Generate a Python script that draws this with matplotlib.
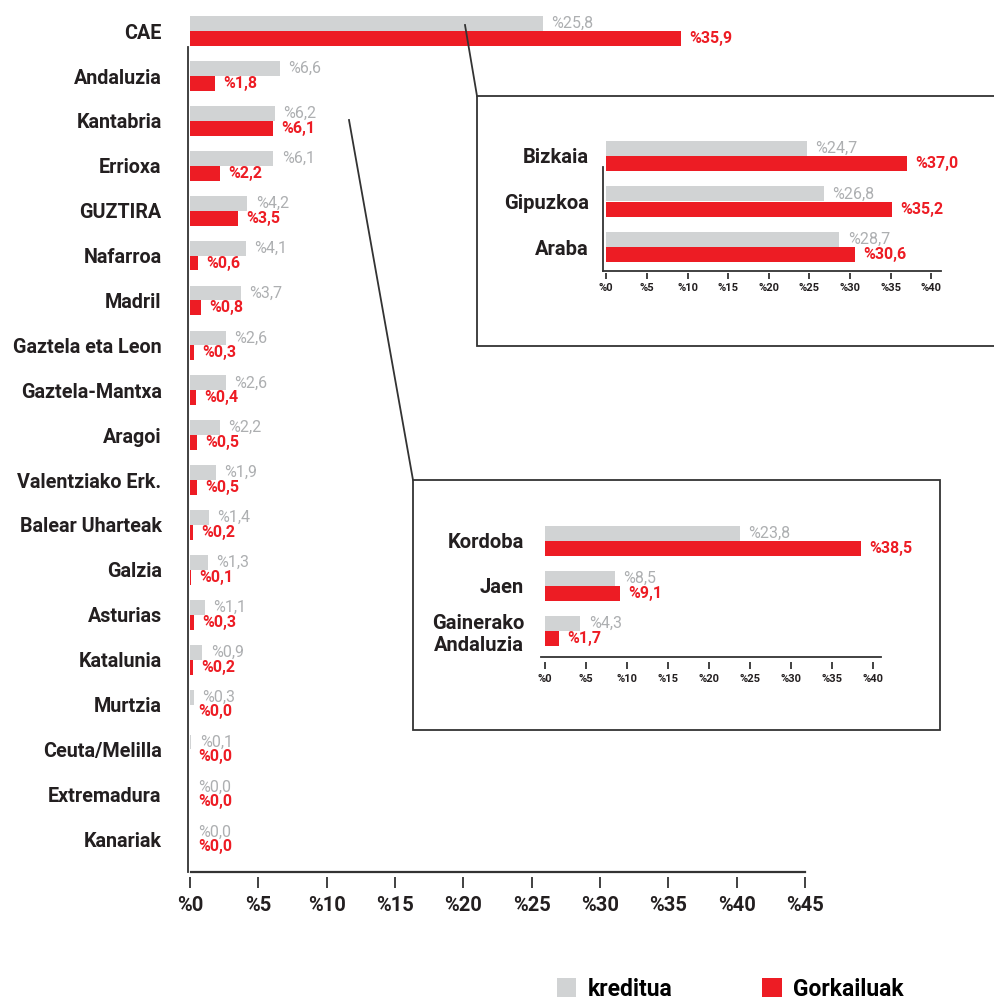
import matplotlib.pyplot as plt
from matplotlib.patches import Rectangle, Patch
from matplotlib.lines import Line2D

plt.rcParams['font.family'] = ['Roboto', 'DejaVu Sans']

# main chart data
regions = ['CAE', 'Andaluzia', 'Kantabria', 'Errioxa', 'GUZTIRA', 'Nafarroa', 'Madril',
           'Gaztela eta Leon', 'Gaztela-Mantxa', 'Aragoi', 'Valentziako Erk.',
           'Balear Uharteak', 'Galzia', 'Asturias', 'Katalunia', 'Murtzia',
           'Ceuta/Melilla', 'Extremadura', 'Kanariak']
kreditua = [25.8, 6.6, 6.2, 6.1, 4.2, 4.1, 3.7, 2.6, 2.6, 2.2, 1.9, 1.4, 1.3, 1.1, 0.9,
            0.3, 0.1, 0.0, 0.0]
gorkailuak = [35.9, 1.8, 6.1, 2.2, 3.5, 0.6, 0.8, 0.3, 0.4, 0.5, 0.5, 0.2, 0.1, 0.3, 0.2,
              0.0, 0.0, 0.0, 0.0]

# CAE breakdown
cae_areas = ['Bizkaia', 'Gipuzkoa', 'Araba']
cae_kreditua = [24.7, 26.8, 28.7]
cae_gorkailuak = [37.0, 35.2, 30.6]

# Andaluzia breakdown
and_areas = ['Kordoba', 'Jaen', 'Gainerako\nAndaluzia']
and_kreditua = [23.8, 8.5, 4.3]
and_gorkailuak = [38.5, 9.1, 1.7]

main_ticks = list(range(0, 50, 5))
inset_ticks = list(range(0, 45, 5))

GREY = '#d1d3d4'
GREY_TXT = '#adafb1'
RED = '#ed1c24'
DARK = '#231f20'
LINE = '#333333'

W, H = 994, 1001


def rect(l, t, r, b):
    """pixel box -> figure fraction [left, bottom, width, height]"""
    return [l / W, 1 - b / H, (r - l) / W, (b - t) / H]


def fig_pt(x, y):
    return x / W, 1 - y / H


def pct(v):
    return '%' + f'{v:.1f}'.replace('.', ',')


def draw_pairs(ax, labels, kred, gork, val_fs, cat_fs, cat_pad):
    pos = list(range(len(labels)))
    h = 0.33
    ax.barh([p - h / 2 for p in pos], kred, height=h, color=GREY, zorder=2)
    ax.barh([p + h / 2 for p in pos], gork, height=h, color=RED, zorder=2)
    for p, k, g in zip(pos, kred, gork):
        ax.annotate(pct(k), (k, p - h / 2), xytext=(6, 0), textcoords='offset points',
                    va='center', ha='left', fontsize=val_fs, color=GREY_TXT)
        ax.annotate(pct(g), (g, p + h / 2), xytext=(6, 0), textcoords='offset points',
                    va='center', ha='left', fontsize=val_fs, color=RED, fontweight='bold')
    ax.set_yticks(pos)
    ax.set_yticklabels(labels, fontsize=cat_fs, fontweight='bold', color=DARK)
    ax.tick_params(axis='y', length=0, pad=cat_pad)
    for s in ['top', 'right', 'bottom']:
        ax.spines[s].set_visible(False)
    ax.set_facecolor('none')


fig = plt.figure(figsize=(W / 100, H / 100), dpi=100)

# ---- main chart
ax = fig.add_axes(rect(188, 10, 805, 877), zorder=0)
draw_pairs(ax, regions, kreditua, gorkailuak, 11.5, 14.2, 19)
ax.set_xlim(-0.15, 45)
ax.set_ylim(18.84, -0.47)
ax.set_xticks(main_ticks)
ax.set_xticklabels(['%' + str(t) for t in main_ticks], fontsize=14.5, fontweight='bold', color=DARK)
ax.tick_params(axis='x', length=8, width=1.3, color=LINE, pad=6, direction='out')
ax.spines['left'].set_bounds(0.36, 18.73)
ax.spines['left'].set_color(LINE)
ax.spines['left'].set_linewidth(1.3)
ax.axhline(18.73, xmin=0.005, xmax=1, color=LINE, lw=1.6, clip_on=False)

# ---- inset boxes and connectors
fig.add_artist(Rectangle(fig_pt(477, 346), 600 / W, 250 / H, transform=fig.transFigure,
                         facecolor='white', edgecolor=LINE, lw=1.3, zorder=2))
fig.add_artist(Rectangle(fig_pt(413, 730), 527 / W, 250 / H, transform=fig.transFigure,
                         facecolor='white', edgecolor=LINE, lw=1.3, zorder=2))
for (x0, y0), (x1, y1) in [((465, 25), (477, 96)), ((349, 120), (413, 480))]:
    a, b = fig_pt(x0, y0)
    c, d = fig_pt(x1, y1)
    fig.add_artist(Line2D([a, c], [b, d], transform=fig.transFigure, color=LINE,
                          lw=1.3, zorder=2))

# ---- CAE inset
ax1 = fig.add_axes(rect(603, 130, 941, 273), zorder=3)
draw_pairs(ax1, cae_areas, cae_kreditua, cae_gorkailuak, 11.5, 14.5, 10)
ax1.set_xlim(-0.4, 41.2)
ax1.set_ylim(2.57, -0.57)
ax1.set_xticks(inset_ticks)
ax1.set_xticklabels(['%' + str(t) for t in inset_ticks], fontsize=8, fontweight='bold', color=DARK)
ax1.tick_params(axis='x', length=4.5, width=1.3, color=LINE, pad=3, direction='out')
ax1.spines['left'].set_bounds(0.24, 2.53)
ax1.spines['left'].set_color(LINE)
ax1.spines['left'].set_linewidth(1.3)
ax1.axhline(2.53, color=LINE, lw=1.3, clip_on=False)

# ---- Andaluzia inset
ax2 = fig.add_axes(rect(541, 500, 881, 662), zorder=3)
draw_pairs(ax2, and_areas, and_kreditua, and_gorkailuak, 11.5, 14.5, 12)
ax2.set_xlim(-0.5, 41)
ax2.set_ylim(2.69, -0.91)
ax2.set_xticks(inset_ticks)
ax2.set_xticklabels(['%' + str(t) for t in inset_ticks], fontsize=8, fontweight='bold', color=DARK)
ax2.tick_params(axis='x', length=5, width=1.3, color=LINE, pad=4, direction='out')
ax2.spines['left'].set_visible(False)
ax2.axhline(2.58, color=LINE, lw=1.3, clip_on=False)

# ---- legend
handles = [Patch(facecolor=GREY, edgecolor='none'), Patch(facecolor=RED, edgecolor='none')]
fig.legend(handles, ['kreditua', 'Gorkailuak'], loc='center left',
           bbox_to_anchor=fig_pt(557, 989), ncol=2, frameon=False,
           prop={'size': 16.5, 'weight': 'bold'}, handlelength=0.85, handleheight=0.85,
           handletextpad=0.5, columnspacing=3.9, borderpad=0, borderaxespad=0)

fig.savefig('out.png', dpi=100)
